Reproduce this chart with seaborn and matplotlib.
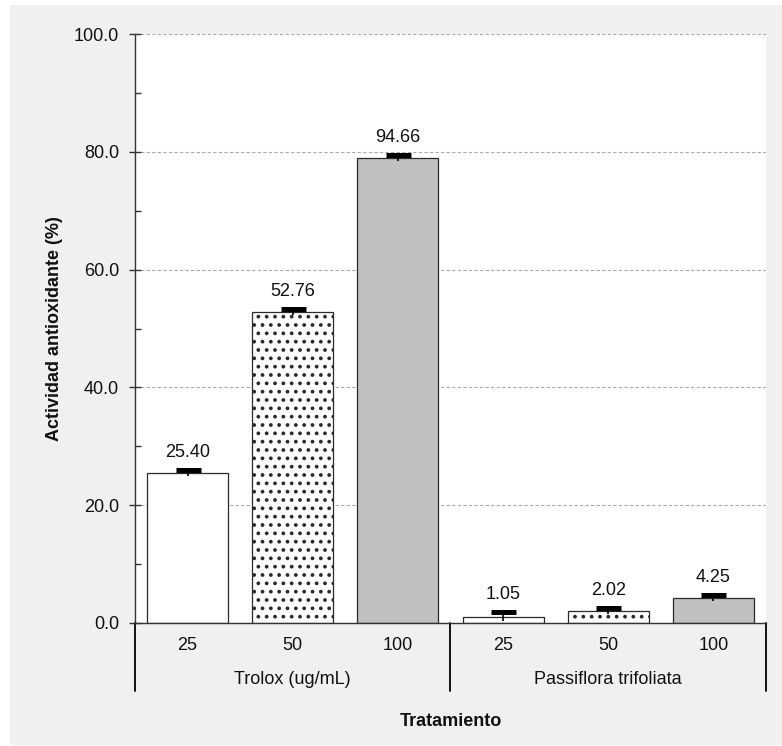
import pandas as pd
import seaborn as sns
import matplotlib.pyplot as plt
from matplotlib.patches import Rectangle


sns.set_theme(style="white")
plt.rcParams["font.family"] = ["Liberation Sans", "DejaVu Sans"]
plt.rcParams["hatch.linewidth"] = 1.5

groups = ["Trolox (ug/mL)", "Trolox (ug/mL)", "Trolox (ug/mL)",
          "Passiflora trifoliata", "Passiflora trifoliata", "Passiflora trifoliata"]
concentrations = ["25", "50", "100", "25", "50", "100"]
values = [25.40, 52.76, 78.90, 1.05, 2.02, 4.25]
errors = [0.5, 0.5, 0.5, 0.75, 0.45, 0.45]
value_labels = ["25.40", "52.76", "94.66", "1.05", "2.02", "4.25"]
group_names = ["Trolox (ug/mL)", "Passiflora trifoliata"]

bar_colors = ["white", "white", "#c0c0c0", "white", "white", "#c0c0c0"]
hatches = ["", "..", "", "", "..", ""]
edge = "#2a2a2a"
fs = 13

data = pd.DataFrame({
    "key": [f"{g}|{c}" for g, c in zip(groups, concentrations)],
    "group": groups,
    "conc": concentrations,
    "value": values,
})

fig = plt.figure(figsize=(7.82, 7.46), dpi=100, facecolor="white")
fig.patches.append(Rectangle((0.0128, 0.0013), 0.9872, 0.992, transform=fig.transFigure,
                             facecolor="#f0f0f0", edgecolor="none", zorder=-10))
ax = fig.add_axes([0.1726, 0.1649, 0.9795 - 0.1726, 0.9544 - 0.1649])
ax.set_facecolor("white")

sns.barplot(data=data, x="key", y="value", hue="key", palette=bar_colors,
            order=list(data["key"]), width=0.77, errorbar=None, legend=False,
            edgecolor=edge, linewidth=0.9, ax=ax)

for patch, h in zip(ax.patches, hatches):
    if h:
        patch.set_hatch(h)

centers = [p.get_x() + p.get_width() / 2 for p in ax.patches]
# error bar: thin stem through the top, thick cap only above
ax.vlines(centers, [v - e for v, e in zip(values, errors)], [v + e for v, e in zip(values, errors)],
          color="black", lw=1.2, zorder=5)
ax.plot(centers, [v + e for v, e in zip(values, errors)], ls="none", marker="_",
        markersize=18, markeredgewidth=3.6, color="black", zorder=6)

for x, v, e, lab in zip(centers, values, errors, value_labels):
    ax.annotate(lab, (x, v + e), xytext=(0, 7), textcoords="offset points",
                ha="center", va="bottom", fontsize=fs, color="#111111")

ax.set_ylim(0, 100)
ax.set_xlim(-0.5, len(values) - 0.5)
ax.set_yticks(range(0, 101, 20))
ax.set_yticklabels([f"{t:.1f}" for t in range(0, 101, 20)], fontsize=fs, color="#111111")
ax.set_yticks(range(10, 100, 20), minor=True)
ax.tick_params(axis="y", which="major", direction="inout", length=9, width=1, color="#333333", pad=7, left=True)
ax.tick_params(axis="y", which="minor", direction="in", length=4, width=1, color="#333333", left=True)
ax.yaxis.grid(True, which="major", color="#a8a8a8", linestyle=(0, (3, 2)), linewidth=0.8)
ax.set_axisbelow(True)

ax.set_xticks([])
ax.set_xlabel("")
ax.set_ylabel("Actividad antioxidante (%)", fontsize=fs, fontweight="bold", color="#111111")
ax.yaxis.set_label_coords(-0.114, 0.5)

for side in ["top", "right"]:
    ax.spines[side].set_visible(False)
for side in ["left", "bottom"]:
    ax.spines[side].set_color("#333333")
    ax.spines[side].set_linewidth(1.0)

# grouped category axis below the plot
trans = ax.get_xaxis_transform()
for x, c in zip(range(len(values)), concentrations):
    ax.text(x, -0.039, c, transform=trans, ha="center", va="center", fontsize=fs, color="#111111")
for i, g in enumerate(group_names):
    ax.text(i * 3 + 1, -0.096, g, transform=trans, ha="center", va="center", fontsize=fs, color="#111111")
for xb in [-0.5, 2.5, 5.5]:
    ax.plot([xb, xb], [0, -0.115], transform=trans, color="#111111", lw=1.4, clip_on=False)

ax.text(0.5, -0.168, "Tratamiento", transform=ax.transAxes, ha="center", va="center",
        fontsize=fs, fontweight="bold", color="#111111")

fig.savefig("out.png", dpi=100, facecolor=fig.get_facecolor())
